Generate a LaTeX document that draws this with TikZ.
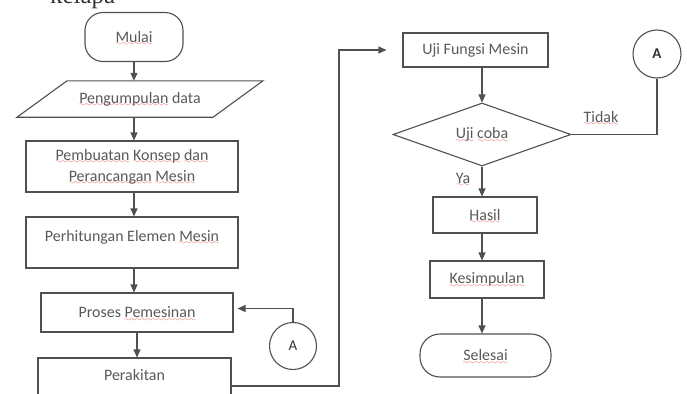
\documentclass[tikz,border=0pt]{standalone}
\usepackage{fontspec}
\setmainfont{Carlito}
\newfontfamily\kserif{Liberation Serif}
\usetikzlibrary{arrows.meta,shapes.geometric}
\definecolor{linec}{HTML}{505050}
\definecolor{textc}{HTML}{595959}
\definecolor{spell}{HTML}{E23B35}
\font\mywave=lasy7
\newcommand\sq[1]{\leavevmode\setbox0=\hbox{#1}\rlap{\raisebox{-3.5pt}[0pt][0pt]{\hbox to\wd0{\color{spell}\mywave\xleaders\hbox{\char58}\hfil}}}\box0\relax}
\tikzset{
  every node/.style={font=\fontsize{16}{21}\selectfont, text=textc},
  box/.style={draw=linec, line width=1.1bp, inner sep=0pt, align=center},
  term/.style={box, rounded corners=18bp},
  conn/.style={circle, draw=linec, line width=1.1bp, inner sep=0pt, minimum size=47bp, font=\fontsize{15}{15}\selectfont, text=black!80},
  arr/.style={draw=linec, line width=1.1bp, -{Triangle[length=8bp,width=7bp]}},
  plain/.style={draw=linec, line width=1.1bp},
}
\begin{document}
\begin{tikzpicture}[x=1bp,y=-1bp]
\useasboundingbox (0,0) rectangle (687,393);
\fill[white] (0,0) rectangle (687,393);
\clip (0,0) rectangle (687,393);

\node[anchor=base west, font=\kserif\fontsize{25}{25}\selectfont, text=black!80, inner sep=0pt] (kel) at (50,3) {kelapa};

% left column
\node[term, minimum width=98bp, minimum height=49bp] (mulai) at (134,37) {\sq{Mulai}};
\node[inner sep=0pt, minimum width=196bp, minimum height=36bp] (peng) at (140,99) {\sq{Pengumpulan} data};
\draw[plain] ([xshift=-73bp]peng.north) -- ([xshift=123bp]peng.north) -- ([xshift=73bp]peng.south) -- ([xshift=-123bp]peng.south) -- cycle;
\node[box, minimum width=212bp, minimum height=51bp] (pemb) at (132,166.5) {\sq{Pembuatan} \sq{Konsep} \sq{dan}\\\sq{Perancangan} \sq{Mesin}};
\node[box, minimum width=212bp, minimum height=51bp] (perh) at (132,242.5) {Perhitungan Elemen \sq{Mesin}\\[-14pt]\strut};
\node[box, minimum width=192bp, minimum height=39bp] (proses) at (137,312.5) {Proses \sq{Pemesinan}};
\node[box, minimum width=193bp, minimum height=51bp] (perak) at (134.5,383.5) {Perakitan\\[-10pt]\strut};
\node[conn] (aL) at (293,346) {A};

\draw[arr] (mulai.south) -- (mulai.south |- peng.north);
\draw[arr] (mulai.south |- peng.south) -- (mulai.south |- pemb.north);
\draw[arr] (mulai.south |- pemb.south) -- (mulai.south |- perh.north);
\draw[arr] (mulai.south |- perh.south) -- (mulai.south |- proses.north);
\draw[arr] (proses.south) -- (proses.south |- perak.north);
\draw[arr] (aL.north) |- ([xshift=4bp,yshift=4bp]proses.east);

% right column
\node[box, minimum width=145bp, minimum height=34bp] (uji) at (475.5,50) {Uji Fungsi Mesin};
\node[diamond, draw=linec, line width=1.1bp, aspect=2.83, minimum width=178bp, minimum height=63bp, inner sep=0pt] (dec) at (482,134.5) {\sq{Uji} \sq{coba}};
\node[box, minimum width=104bp, minimum height=36bp] (hasil) at (485,215) {\sq{Hasil}};
\node[box, minimum width=114bp, minimum height=37bp] (kesim) at (487,279.5) {\sq{Kesimpulan}};
\node[term, rounded corners=20bp, minimum width=131bp, minimum height=43bp] (selesai) at (485.5,355.5) {\sq{Selesai}};
\node[conn, minimum size=48bp, font=\fontsize{15}{15}\selectfont\bfseries] (aR) at (657,54) {A};
\node (tidak) at (601,117) {\sq{Tidak}};
\node (ya) at (463,178) {\sq{Ya}};

\coordinate (c1) at (339,386);
\draw[arr] (perak.east |- c1) -- (c1) |- ([xshift=-16bp]uji.west);
\draw[arr] (dec.north |- uji.south) -- (dec.north);
\draw[arr] (dec.south) -- (dec.south |- hasil.north);
\draw[arr] (dec.south |- hasil.south) -- (dec.south |- kesim.north);
\draw[arr] (dec.south |- kesim.south) -- (dec.south |- selesai.north);
\draw[plain] (aR.south) |- (dec.east);
\end{tikzpicture}
\end{document}
